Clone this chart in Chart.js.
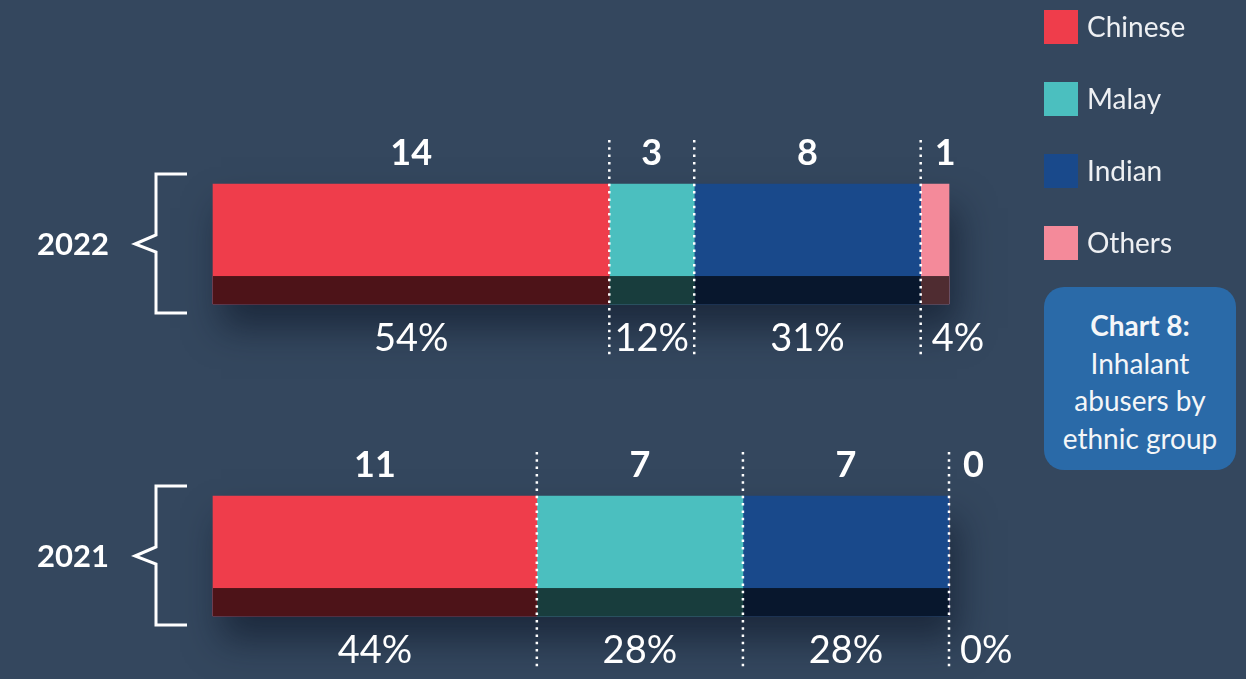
<!DOCTYPE html>
<html>
<head>
<meta charset="utf-8">
<script src="https://cdn.jsdelivr.net/npm/chart.js@4"></script>
<style>
  html, body { margin: 0; padding: 0; background: #34475e; }
  #wrap { position: relative; width: 1246px; height: 679px; overflow: hidden; }
  #note {
    position: absolute; left: 1044px; top: 287px; width: 192px; height: 183px;
    background: #2a6aa8; border-radius: 20px; box-sizing: border-box; padding-top: 20px;
    color: #f4f6f8; font-family: Lato, sans-serif; font-size: 28px; line-height: 37.5px; text-align: center;
  }
  #note b { font-weight: 700; }
</style>
</head>
<body>
<div id="wrap">
  <canvas id="myChart" width="1246" height="679"></canvas>
  <div id="note"><b>Chart 8:</b><br>Inhalant<br>abusers by<br>ethnic group</div>
</div>
<script>
const years = ['2022', '2021'];
const groups = ['Chinese', 'Malay', 'Indian', 'Others'];
const chinese = [14, 11];
const malay = [3, 7];
const indian = [8, 7];
const others = [1, 0];
const chinesePct = [54, 44];
const malayPct = [12, 28];
const indianPct = [31, 28];
const othersPct = [4, 0];
const colours = ['#ef3d4b', '#4bbfbf', '#19498b', '#f48a9a'];

const counts = [chinese, malay, indian, others];
const pcts = [chinesePct, malayPct, indianPct, othersPct];
const totals = years.map((y, i) => counts.reduce((s, c) => s + c[i], 0));

// each bar is drawn as share of its own year's total
const datasets = groups.map((g, k) => ({
    label: g,
    data: counts[k].map((v, i) => v / totals[i] * 100),
    backgroundColor: colours[k],
    borderWidth: 0,
    barThickness: 120,
    clip: false
}));

const decor = {
    id: 'decor',
    beforeDatasetsDraw(chart) {
        const ctx = chart.ctx;
        years.forEach((y, i) => {
            const first = chart.getDatasetMeta(0).data[i];
            let right = first.base;
            chart.data.datasets.forEach((d, k) => {
                right = Math.max(right, chart.getDatasetMeta(k).data[i].x);
            });
            ctx.save();
            ctx.shadowColor = 'rgba(10,18,35,0.55)';
            ctx.shadowBlur = 34;
            ctx.shadowOffsetY = 24;
            ctx.shadowOffsetX = 8;
            ctx.fillStyle = '#34475e';
            ctx.fillRect(first.base, first.y - first.height / 2, right - first.base, first.height);
            ctx.restore();
        });
    },
    afterDatasetsDraw(chart) {
        const ctx = chart.ctx;
        chart.data.datasets.forEach((d, k) => {
            chart.getDatasetMeta(k).data.forEach((bar, i) => {
                const left = Math.min(bar.base, bar.x);
                const w = Math.abs(bar.x - bar.base);
                const top = bar.y - bar.height / 2;
                const bottom = bar.y + bar.height / 2;
                // darker base strip
                ctx.fillStyle = 'rgba(0,0,0,0.68)';
                ctx.fillRect(left, bottom - bar.height * 0.233, w, bar.height * 0.233);
                // dotted separators
                if (k > 0) {
                    ctx.save();
                    ctx.strokeStyle = '#ffffff';
                    ctx.lineWidth = 2.5;
                    ctx.setLineDash([2.5, 4.8]);
                    ctx.beginPath();
                    ctx.moveTo(left, top - 44);
                    ctx.lineTo(left, bottom + 55);
                    ctx.stroke();
                    ctx.restore();
                }
                // labels
                ctx.fillStyle = '#ffffff';
                ctx.textBaseline = 'middle';
                const cnt = String(counts[k][i]);
                const pct = pcts[k][i] + '%';
                ctx.font = 'bold 36px Lato';
                let tw = ctx.measureText(cnt).width;
                if (tw > w - 10) { ctx.textAlign = 'left'; ctx.fillText(cnt, left + 14, top - 31); }
                else { ctx.textAlign = 'center'; ctx.fillText(cnt, left + w / 2, top - 31); }
                ctx.font = '38px Lato';
                tw = ctx.measureText(pct).width;
                if (tw > w - 10) { ctx.textAlign = 'left'; ctx.fillText(pct, left + 11, bottom + 35); }
                else { ctx.textAlign = 'center'; ctx.fillText(pct, left + w / 2, bottom + 35); }
            });
        });
        // year labels and brackets
        const yScale = chart.scales.y;
        years.forEach((y, i) => {
            const c = yScale.getPixelForValue(i);
            ctx.fillStyle = '#ffffff';
            ctx.font = 'bold 31px Lato';
            ctx.textAlign = 'center';
            ctx.textBaseline = 'middle';
            ctx.fillText(y, 73, c + 1);
            ctx.save();
            ctx.strokeStyle = '#ffffff';
            ctx.lineWidth = 3;
            ctx.beginPath();
            ctx.moveTo(187, c - 70);
            ctx.lineTo(156, c - 70);
            ctx.lineTo(156, c - 9);
            ctx.lineTo(135, c);
            ctx.lineTo(156, c + 8);
            ctx.lineTo(156, c + 69);
            ctx.lineTo(187, c + 69);
            ctx.stroke();
            ctx.restore();
        });
    },
    afterDraw(chart) {
        const ctx = chart.ctx;
        chart.data.datasets.forEach((d, k) => {
            const top = 10 + k * 72;
            ctx.fillStyle = d.backgroundColor;
            ctx.fillRect(1044, top, 34, 34);
            ctx.fillStyle = '#eef0f3';
            ctx.font = '28px Lato';
            ctx.textAlign = 'left';
            ctx.textBaseline = 'middle';
            ctx.fillText(d.label, 1087, top + 18);
        });
    }
};

const ctx = document.getElementById('myChart').getContext('2d');
new Chart(ctx, {
    type: 'bar',
    data: { labels: years, datasets: datasets },
    options: {
        indexAxis: 'y',
        responsive: false,
        animation: false,
        devicePixelRatio: 1,
        layout: { padding: { left: 213, right: 297, top: 244, bottom: 123 } },
        plugins: { legend: { display: false }, tooltip: { enabled: false } },
        scales: {
            x: { stacked: true, min: 0, max: 100, display: false },
            y: { stacked: true, offset: false, display: false }
        }
    },
    plugins: [decor]
});
</script>
</body>
</html>
